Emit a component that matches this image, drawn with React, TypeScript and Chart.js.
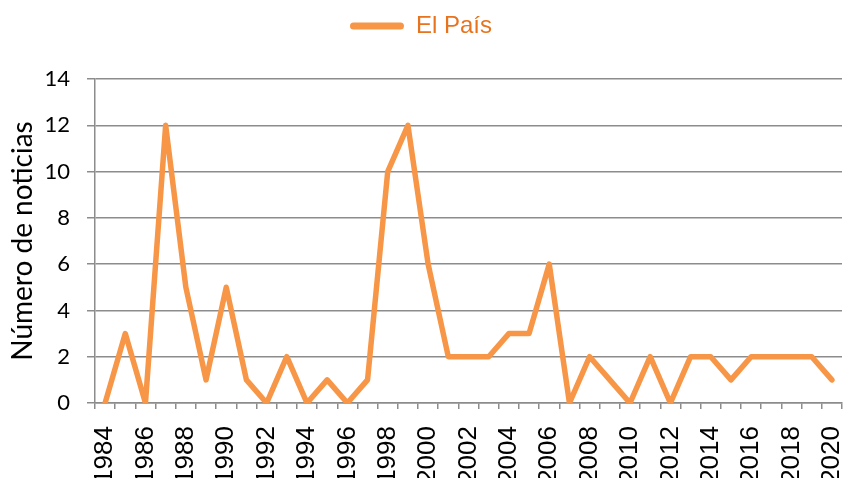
import React, { useEffect, useRef } from "react";
import { Chart, registerables } from "chart.js";

Chart.register(...registerables);

const years: string[] = [
  "1984", "1985", "1986", "1987", "1988", "1989", "1990", "1991", "1992", "1993",
  "1994", "1995", "1996", "1997", "1998", "1999", "2000", "2001", "2002", "2003",
  "2004", "2005", "2006", "2007", "2008", "2009", "2010", "2011", "2012", "2013",
  "2014", "2015", "2016", "2017", "2018", "2019", "2020",
];

const elPais: number[] = [
  0, 3, 0, 12, 5, 1, 5, 1, 0, 2,
  0, 1, 0, 1, 10, 12, 6, 2, 2, 2,
  3, 3, 6, 0, 2, 1, 0, 2, 0, 2,
  2, 1, 2, 2, 2, 2, 1,
];

const seriesName = "El País";
const yTitle = "Número de noticias";
const yMin = 0;
const yMax = 14;
const yStep = 2;

const LINE = "#F79646";
const LEGEND_TEXT = "#E8731E";
const GRID = "#8C8C8C";

const legendGap = {
  id: "legendGap",
  beforeLayout(chart: any) {
    const lg = chart.legend;
    if (lg && !lg._gapPatched) {
      const orig = lg.fit.bind(lg);
      lg.fit = function () {
        orig();
        this.height += 31;
      };
      lg._gapPatched = true;
    }
  },
};

export default function App() {
  const ref = useRef<HTMLCanvasElement | null>(null);

  useEffect(() => {
    if (!ref.current) return;
    const chart = new Chart(ref.current, {
      type: "line",
      data: {
        labels: years,
        datasets: [
          {
            label: seriesName,
            data: elPais,
            borderColor: LINE,
            backgroundColor: LINE,
            borderWidth: 5.5,
            pointRadius: 0,
            pointHoverRadius: 0,
            tension: 0,
            borderCapStyle: "round",
            borderJoinStyle: "round",
            fill: false,
          },
        ],
      },
      plugins: [legendGap],
      options: {
        animation: false,
        responsive: true,
        maintainAspectRatio: false,
        layout: { padding: { left: 0, right: 3, top: 4, bottom: 0 } },
        plugins: {
          tooltip: { enabled: false },
          legend: {
            display: true,
            position: "top",
            labels: {
              color: LEGEND_TEXT,
              font: { family: "'Liberation Sans', Arial, sans-serif", size: 24 },
              boxWidth: 54,
              boxHeight: 7,
              padding: 10,
              useBorderRadius: true,
              borderRadius: 3.5,
              generateLabels: (c: any) =>
                c.data.datasets.map((ds: any, i: number) => ({
                  text: ds.label,
                  fillStyle: LINE,
                  strokeStyle: LINE,
                  lineWidth: 0,
                  fontColor: LEGEND_TEXT,
                  borderRadius: 3.5,
                  datasetIndex: i,
                  hidden: false,
                })),
            },
          },
        },
        scales: {
          x: {
            type: "category",
            offset: true,
            afterFit: (s: any) => {
              s.paddingLeft = 0;
              s.paddingRight = 0;
              s.height = 75;
            },
            grid: {
              display: true,
              offset: true,
              drawOnChartArea: false,
              drawTicks: true,
              tickLength: 6,
              color: GRID,
              lineWidth: 1.5,
            },
            border: { display: true, color: GRID, width: 1.5 },
            ticks: {
              autoSkip: false,
              minRotation: 90,
              maxRotation: 90,
              padding: 17,
              color: "#000",
              font: { family: "'Liberation Sans', Arial, sans-serif", size: 26 },
              callback: (_v: any, i: number) => (i % 2 === 0 ? years[i] : ""),
            },
          },
          y: {
            min: yMin,
            max: yMax,
            afterFit: (s: any) => {
              s.width = 95;
            },
            grid: {
              display: true,
              drawTicks: true,
              tickLength: 8,
              color: GRID,
              lineWidth: 1.5,
            },
            border: { display: true, color: GRID, width: 1.5 },
            ticks: {
              stepSize: yStep,
              padding: 17,
              color: "#000",
              font: { family: "Lato, 'Liberation Sans', sans-serif", size: 22 },
            },
            title: {
              display: true,
              text: yTitle,
              color: "#000",
              padding: { top: 6, bottom: 6 },
              font: { family: "Lato, 'Liberation Sans', sans-serif", size: 28 },
            },
          },
        },
      },
    });
    return () => chart.destroy();
  }, []);

  return (
    <div style={{ position: "fixed", left: 0, top: 0, width: 845, height: 478, background: "#fff" }}>
      <canvas ref={ref} />
    </div>
  );
}
